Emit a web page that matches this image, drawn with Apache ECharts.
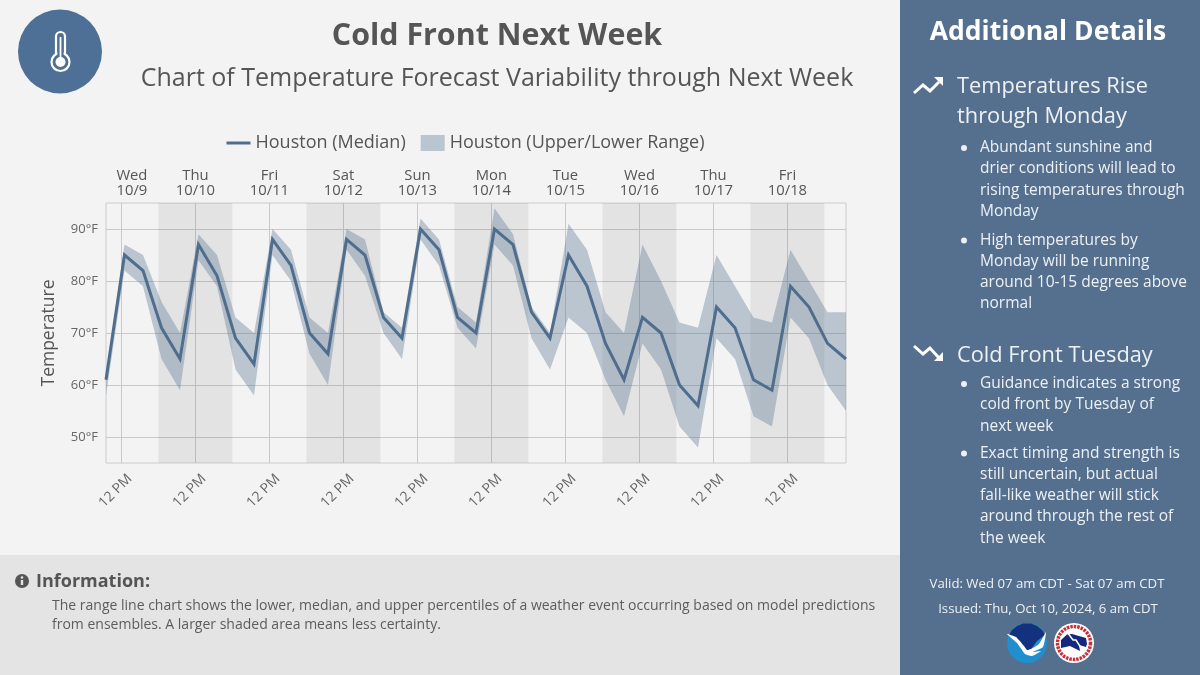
<!DOCTYPE html>
<html>
<head>
<meta charset="utf-8">
<style>html,body{margin:0;padding:0;background:#f3f3f3}#chart{width:1200px;height:675px}</style>
<script src="https://cdn.jsdelivr.net/npm/echarts@6/dist/echarts.min.js"></script>
</head>
<body>
<div id="chart"></div>
<script>
// Forecast steps run every 6 hours; x positions are hours after Wed 10/9 07:00 CDT.
const stepHours = [0,6,12,18,24,30,36,42,48,54,60,66,72,78,84,90,96,102,108,114,120,126,132,138,144,150,156,162,168,174,180,186,192,198,204,210,216,222,228,234,240];
const medianTemps = [61,85,82,71,65,87,81,69,64,88,83,70,66,88,85,73,69,90,86,73,70,90,87,74,69,85,79,68,61,73,70,60,56,75,71,61,59,79,75,68,65];
const upperTemps  = [62,87,85,76,70,89,85,73,70,90,86,73,70,90,88,74,71,92,88,75,72,94,89,75,70,91,86,74,70,87,80,72,71,85,79,73,72,86,80,74,74];
const lowerTemps  = [58,82,79,65,59,84,79,63,58,85,80,66,60,86,81,70,65,88,83,71,67,87,83,69,63,73,70,61,54,68,63,52,48,69,65,54,52,73,69,60,55];
const noonHours = [5,29,53,77,101,125,149,173,197,221];
const noonLabel = '12 PM';
const dayNames = ['Wed\n10/9','Thu\n10/10','Fri\n10/11','Sat\n10/12','Sun\n10/13','Mon\n10/14','Tue\n10/15','Wed\n10/16','Thu\n10/17','Fri\n10/18'];
const dayLabelHours = [8.4,29,53,77,101,125,149,173,197,221];
const shadedDays = [[17,41],[65,89],[113,137],[161,185],[209,233]];
const tempTicks = [50,60,70,80,90];
const medianName = 'Houston (Median)';
const rangeName = 'Houston (Upper/Lower Range)';

const titleText = 'Cold Front Next Week';
const subtitleText = 'Chart of Temperature Forecast Variability through Next Week';
const infoHeading = 'Information:';
const infoBody = 'The range line chart shows the lower, median, and upper percentiles of a weather event occurring based on model predictions\nfrom ensembles. A larger shaded area means less certainty.';
const sideHeading = 'Additional Details';
const riseHeading = 'Temperatures Rise\nthrough Monday';
const riseBullets = ['Abundant sunshine and\ndrier conditions will lead to\nrising temperatures through\nMonday','High temperatures by\nMonday will be running\naround 10-15 degrees above\nnormal'];
const coldHeading = 'Cold Front Tuesday';
const coldBullets = ['Guidance indicates a strong\ncold front by Tuesday of\nnext week','Exact timing and strength is\nstill uncertain, but actual\nfall-like weather will stick\naround through the rest of\nthe week'];
const validText = 'Valid: Wed 07 am CDT - Sat 07 am CDT';
const issuedText = 'Issued: Thu, Oct 10, 2024, 6 am CDT';

const FONT = '"Open Sans", sans-serif';
const INK = '#555555';
const STEEL = '#54708e';

function label(text, x, y, size, color, extra) {
  return { type: 'text', silent: true, z: 10, x, y,
    style: Object.assign({ text, fontFamily: FONT, fontSize: size, fill: color, textVerticalAlign: 'top' }, extra || {}) };
}
function bulletBlock(items, tops) {
  const out = [];
  items.forEach((t, i) => {
    out.push({ type: 'circle', silent: true, z: 10, shape: { cx: 964, cy: tops[i] + 11, r: 3 }, style: { fill: '#eef1f4' } });
    out.push(label(t, 980, tops[i], 15.5, '#eef1f4', { lineHeight: 21.3 }));
  });
  return out;
}
function arrow(points, head) {
  return [
    { type: 'polyline', silent: true, z: 10, shape: { points }, style: { stroke: '#fff', lineWidth: 3, fill: 'none' } },
    { type: 'polygon', silent: true, z: 10, shape: { points: head }, style: { fill: '#fff' } }
  ];
}
function shape(type, shapeDef, style, z) {
  return { type, silent: true, z: z || 10, shape: shapeDef, style };
}

const decorations = [
  // panels
  shape('rect', { x: 0, y: 555, width: 900, height: 120 }, { fill: '#e4e4e4' }, 0),
  shape('rect', { x: 900, y: 0, width: 300, height: 675 }, { fill: STEEL }, 0),

  // thermometer badge
  shape('circle', { cx: 60, cy: 51.5, r: 42 }, { fill: '#4f7096' }, 5),
  shape('rect', { x: 56, y: 32, width: 9, height: 28, r: 4.5 }, { fill: '#4f7096', stroke: '#fff', lineWidth: 2.2 }, 6),
  shape('circle', { cx: 60.5, cy: 62, r: 9 }, { fill: '#4f7096', stroke: '#fff', lineWidth: 2.2 }, 7),
  shape('rect', { x: 57.5, y: 52, width: 6, height: 5 }, { fill: '#4f7096' }, 8),
  shape('circle', { cx: 60.5, cy: 62, r: 5 }, { fill: '#fff' }, 9),
  shape('rect', { x: 59.6, y: 37, width: 1.8, height: 22 }, { fill: '#fff' }, 9),

  // headline
  label(titleText, 497, 21, 30.4, INK, { fontWeight: 'bold', textAlign: 'center' }),
  label(subtitleText, 497, 66, 25, INK, { textAlign: 'center' }),

  // information footer
  shape('circle', { cx: 22, cy: 581, r: 7 }, { fill: INK }),
  shape('circle', { cx: 22, cy: 577.5, r: 1.3 }, { fill: '#e4e4e4' }, 11),
  shape('rect', { x: 20.8, y: 580, width: 2.4, height: 5 }, { fill: '#e4e4e4' }, 11),
  label(infoHeading, 36, 573, 18, INK, { fontWeight: 'bold' }),
  label(infoBody, 52, 597, 14, '#5c5c5c', { lineHeight: 18.5 }),

  // side panel
  label(sideHeading, 1048, 19, 26.5, '#ffffff', { fontWeight: 'bold', textAlign: 'center' }),
  ...arrow([[914,93],[923,85],[930,91],[939,82]], [[934,77],[943,77],[943,86]]),
  label(riseHeading, 957, 72, 21.8, '#eef1f4', { lineHeight: 30 }),
  ...bulletBlock(riseBullets, [137, 229.5]),
  ...arrow([[914,346],[923,354],[930,348],[939,358]], [[943,352],[943,361],[934,361]]),
  label(coldHeading, 957, 345, 21.8, '#eef1f4'),
  ...bulletBlock(coldBullets, [373, 442.5]),
  label(validText, 1047, 578, 13.2, '#eef1f4', { textAlign: 'center' }),
  label(issuedText, 1048, 603, 13.2, '#eef1f4', { textAlign: 'center' }),

  // NOAA roundel
  shape('circle', { cx: 1027, cy: 643, r: 20 }, { fill: '#1f8fd0' }),
  shape('polygon', { points: [[1009,635],[1012,630],[1017,626],[1023,623.5],[1031,623.5],[1037,626],[1042,630],[1045,635],[1037,641],[1029,652],[1018,641]] }, { fill: '#14317f' }, 11),
  shape('polygon', { points: [[1007,634],[1016,637],[1024,646],[1027,650],[1031,649],[1039,644],[1046,632],[1043,647],[1033,652],[1041,651],[1032,656],[1025,654],[1017,643]], smooth: 0.15 }, { fill: '#fff' }, 12),
  label('NOAA', 1027, 629, 7, '#ffffff', { fontWeight: 'bold', textAlign: 'center' }),

  // NWS roundel
  shape('circle', { cx: 1074, cy: 643, r: 20 }, { fill: '#ffffff' }),
  shape('circle', { cx: 1074, cy: 643, r: 16.5 }, { fill: 'none', stroke: '#c8313a', lineWidth: 3.5, lineDash: [2.5, 1] }, 11),
  shape('circle', { cx: 1074, cy: 643, r: 13 }, { fill: '#fff' }, 12),
  shape('polygon', { points: [[1061,640],[1067,634.5],[1072,634],[1086,638],[1087,644],[1086,647],[1079,645],[1080,651],[1070,646],[1061,648]] }, { fill: '#14287f' }, 13),
  shape('polyline', { points: [[1067,632],[1073,640],[1076,640],[1083,651]] }, { fill: 'none', stroke: '#fff', lineWidth: 1.5 }, 14)
];

// The upper/lower envelope is one closed polygon through every forecast step.
function renderRange(params, api) {
  if (params.dataIndex !== 0) return null;
  const top = stepHours.map((h, i) => api.coord([h, upperTemps[i]]));
  const bottom = stepHours.map((h, i) => api.coord([h, lowerTemps[i]])).reverse();
  return {
    type: 'polygon',
    shape: { points: top.concat(bottom) },
    style: { fill: '#4f6f90', opacity: 0.35 }
  };
}

const chart = echarts.init(document.getElementById('chart'), null, { renderer: 'canvas' });
chart.setOption({
  animation: false,
  backgroundColor: '#f3f3f3',
  textStyle: { fontFamily: FONT },
  graphic: decorations,
  legend: {
    top: 129, left: 221.5, itemGap: 15, itemWidth: 24, itemHeight: 16,
    textStyle: { fontFamily: FONT, fontSize: 18, color: INK },
    data: [
      { name: medianName, icon: 'path://M0 6.5H24V9.5H0Z' },
      { name: rangeName, icon: 'rect' }
    ]
  },
  grid: { left: 106, top: 203, width: 740, height: 260, show: true, borderColor: '#cccccc', borderWidth: 1, backgroundColor: 'transparent' },
  xAxis: [
    {
      type: 'value', min: 0, max: 240,
      axisLine: { show: false },
      axisTick: { show: false, customValues: noonHours },
      splitLine: { show: true, lineStyle: { color: '#c9c9c9', width: 1 } },
      axisLabel: { customValues: noonHours, formatter: () => noonLabel, rotate: 45, fontSize: 14, verticalAlign: 'top', padding: [5, 0, 0, 0], color: '#666', fontFamily: FONT, margin: 5, hideOverlap: false }
    },
    {
      type: 'value', min: 0, max: 240, position: 'top',
      axisLine: { show: false },
      axisTick: { show: false, customValues: dayLabelHours },
      splitLine: { show: false },
      axisLabel: {
        customValues: dayLabelHours,
        formatter: v => dayNames[dayLabelHours.indexOf(v)],
        fontSize: 14.8, lineHeight: 15, color: INK, fontFamily: FONT, margin: 5, hideOverlap: false,
        showMinLabel: true, showMaxLabel: true
      }
    }
  ],
  yAxis: {
    type: 'value', min: 45, max: 95,
    name: 'Temperature', nameLocation: 'middle', nameGap: 48,
    nameTextStyle: { fontFamily: FONT, fontSize: 17.5, color: INK },
    axisLine: { show: false },
    axisTick: { show: false, customValues: tempTicks },
    splitLine: { show: true, lineStyle: { color: '#c9c9c9', width: 1 } },
    axisLabel: { customValues: tempTicks, formatter: '{value}°F', fontSize: 13, color: '#666', fontFamily: FONT, margin: 8 }
  },
  series: [
    {
      name: 'Day shading', type: 'line', symbol: 'none', silent: true, z: 1, data: [],
      markArea: {
        silent: true,
        itemStyle: { color: 'rgba(0,0,0,0.062)' },
        data: shadedDays.map(d => [{ xAxis: d[0] }, { xAxis: d[1] }])
      }
    },
    {
      name: rangeName, type: 'custom', silent: true, z: 3, clip: true,
      renderItem: renderRange,
      encode: { x: 0, y: [1, 2] },
      itemStyle: { color: '#b9c5d0' },
      data: stepHours.map((h, i) => [h, upperTemps[i], lowerTemps[i]])
    },
    {
      name: medianName, type: 'line', symbol: 'none', silent: true, z: 5,
      data: stepHours.map((h, i) => [h, medianTemps[i]]),
      lineStyle: { color: '#4f6d8d', width: 3, join: 'miter' },
      itemStyle: { color: '#4f6d8d' }
    }
  ]
});
</script>
</body>
</html>
